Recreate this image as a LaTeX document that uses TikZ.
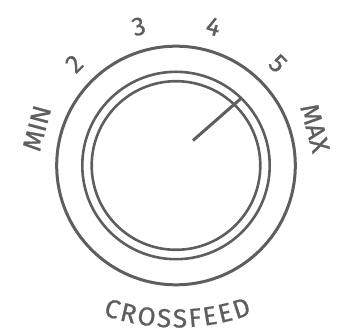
\documentclass[tikz,border=0pt]{standalone}
\usepackage{fontspec}
\setmainfont{Fira Sans}
\newfontfamily\dialface{Fira Sans}[FakeBold=0.8]
\usetikzlibrary{decorations.text}
\definecolor{knobgray}{HTML}{5E5E5E}
\newcommand{\dialfont}{\dialface\fontsize{26pt}{28pt}\selectfont}

\begin{document}
\begin{tikzpicture}[x=1pt, y=1pt,
    ring/.style={draw=knobgray, line width=2.6pt},
    scalelabel/.style={text=knobgray, font=\dialfont, inner sep=0pt}]
  \useasboundingbox (-176,-163.5) rectangle (166,165.5);

  % knob rings
  \draw[ring, line width=3pt] (0,0) circle (119.3);
  \draw[ring] (0,0) circle (93.7);
  \draw[ring] (0,0) circle (84.3);

  % pointer
  \coordinate (hub) at (17,25);
  \coordinate (tip) at (65.5,67.5);
  \draw[knobgray, line width=3pt] (hub) -- (tip);

  % scale
  \foreach \lbl [count=\i] in {MIN,2,3,4,5,MAX} {
    \pgfmathsetmacro{\ang}{195-30*\i}
    \node[scalelabel, rotate=\ang-90] (mark\i) at (\ang:144) {\lbl};
  }

  % caption
  \path[decorate, decoration={text along path, text align=fit to path, text color=knobgray,
      text={|\dialfont|CROSSFEED}}]
    (0,58) ++(250.6:220) arc (250.6:290.2:220);
\end{tikzpicture}
\end{document}
